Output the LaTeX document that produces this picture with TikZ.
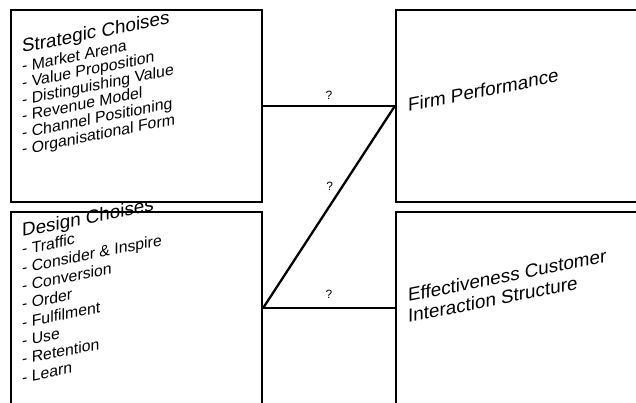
\documentclass[tikz,border=0pt]{standalone}
\usepackage{fontspec}
\setmainfont{Liberation Sans}
\usetikzlibrary{positioning}

\tikzset{
    box/.style={draw, line width=2.3pt, minimum width=251pt, minimum height=192pt, inner sep=0pt},
    link/.style={line width=2.3pt},
    heading/.style={anchor=base west, inner sep=0pt, yslant=0.2, transform shape, font=\fontsize{18.8}{22}\selectfont},
    entry/.style={anchor=base west, inner sep=0pt, yslant=0.2, transform shape, font=\fontsize{15.8}{18}\selectfont},
    qlabel/.style={font=\fontsize{12}{14}\selectfont, inner sep=2pt}
}

\begin{document}
\begin{tikzpicture}[x=1pt, y=1pt]
    \useasboundingbox (0,0) rectangle (636,403);
    \clip (0,0) rectangle (636,403);

    % The four boxes
    \node[box] (strat) at (136.5,297) {};
    \node[box] (design) at (136.5,95) {};
    \node[box] (firm) at (521.5,297) {};
    \node[box] (effect) at (521.5,95) {};

    % Strategic choises
    \node[heading] (stitle) at (22,350) {Strategic Choises};
    \node[entry] (s1) at (22,331) {- Market Arena};
    \node[entry] (s2) at (22,314.4) {- Value Proposition};
    \node[entry] (s3) at (22,297.8) {- Distinguishing Value};
    \node[entry] (s4) at (22,281.2) {- Revenue Model};
    \node[entry] (s5) at (22,264.6) {- Channel Positioning};
    \node[entry] (s6) at (22,248) {- Organisational Form};

    % Design choises
    \node[heading] (dtitle) at (22,166) {Design Choises};
    \node[entry] (d1) at (22,148) {- Traffic};
    \node[entry] (d2) at (22,129.7) {- Consider \& Inspire};
    \node[entry] (d3) at (22,111.4) {- Conversion};
    \node[entry] (d4) at (22,93.1) {- Order};
    \node[entry] (d5) at (22,74.8) {- Fulfilment};
    \node[entry] (d6) at (22,56.5) {- Use};
    \node[entry] (d7) at (22,38.2) {- Retention};
    \node[entry] (d8) at (22,19.9) {- Learn};

    % Outcomes
    \node[heading] (ftitle) at (408,291) {Firm Performance};
    \node[heading] (etitle) at (408,101) {Effectiveness Customer};
    \node[heading] (etitle2) at (408,80) {Interaction Structure};

    % Links between the boxes
    \draw[link] (strat.east) -- (firm.west) node[qlabel, midway, above=3pt] {?};
    \draw[link] (design.east) -- (firm.west) node[qlabel, pos=0.6, left=6pt] {?};
    \draw[link] (design.east) -- (effect.west) node[qlabel, midway, above=6pt] {?};
\end{tikzpicture}
\end{document}
